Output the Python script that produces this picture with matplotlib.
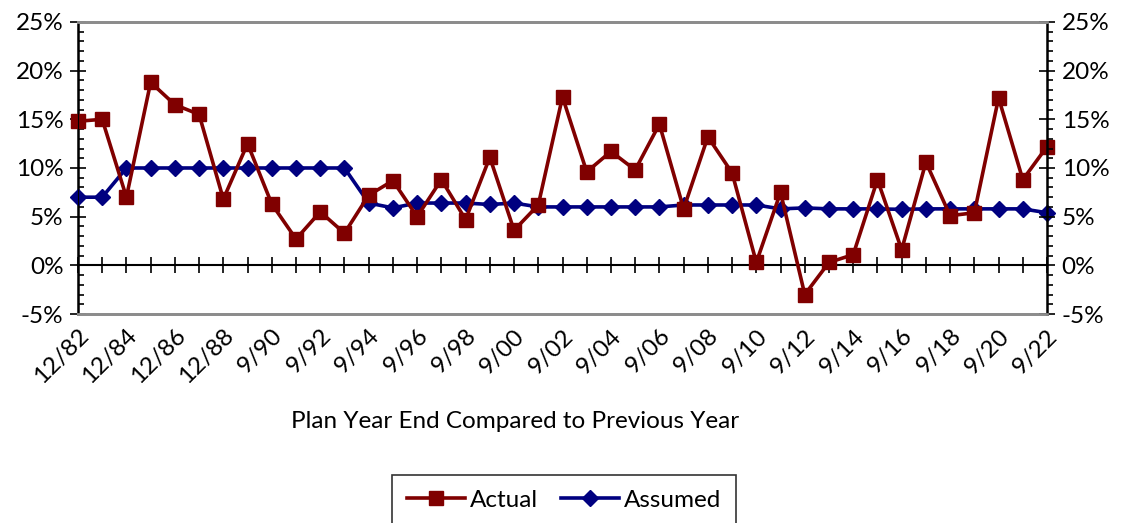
import matplotlib
import matplotlib.pyplot as plt
from matplotlib.ticker import FixedLocator, MultipleLocator, PercentFormatter

matplotlib.use("Agg")

plt.rcParams["font.family"] = ["Lato", "DejaVu Sans"]
plt.rcParams["axes.unicode_minus"] = False

# Plan year ends: December through 1989, September afterwards
PERIODS = [f"12/{y:02d}" for y in range(82, 90)] + [f"9/{y % 100:02d}" for y in range(1990, 2023)]

ACTUAL = [
    14.8, 15.0, 7.0, 18.8, 16.5, 15.5, 6.8, 12.5, 6.3, 2.7,
    5.5, 3.3, 7.2, 8.7, 5.0, 8.8, 4.7, 11.1, 3.6, 6.2,
    17.3, 9.6, 11.7, 9.8, 14.5, 5.8, 13.2, 9.5, 0.3, 7.5,
    -3.0, 0.3, 1.1, 8.8, 1.6, 10.6, 5.1, 5.4, 17.2, 8.8,
    12.2,
]
ASSUMED = [
    7.0, 7.0, 10.0, 10.0, 10.0, 10.0, 10.0, 10.0, 10.0, 10.0,
    10.0, 10.0, 6.4, 5.9, 6.4, 6.4, 6.4, 6.25, 6.4, 6.0,
    6.0, 6.0, 6.0, 6.0, 6.0, 6.2, 6.2, 6.2, 6.2, 5.8,
    5.9, 5.8, 5.8, 5.8, 5.75, 5.8, 5.8, 5.8, 5.8, 5.8,
    5.4,
]

RED = "#800000"
BLUE = "#000080"
GRAY = "#8c8c8c"
FS = 17.5

x = list(range(len(PERIODS)))
YMIN, YMAX = -5, 25

fig = plt.figure(figsize=(11.25, 5.23), dpi=100)
ax = fig.add_axes([0.0693, 0.3996, 0.8614, 0.5584])

ax.plot(x, ACTUAL, color=RED, lw=2.6, marker="s", ms=10, clip_on=False, zorder=4, label="Actual")
ax.plot(x, ASSUMED, color=BLUE, lw=2.6, marker="D", ms=8, clip_on=False, zorder=3, label="Assumed")

ax.set_xlim(0, len(x) - 1)
ax.set_ylim(YMIN, YMAX)

# left axis
ax.yaxis.set_major_locator(MultipleLocator(5))
ax.yaxis.set_minor_locator(MultipleLocator(1))
ax.yaxis.set_major_formatter(PercentFormatter(decimals=0))
ax.tick_params(axis="y", which="major", direction="inout", length=11, width=1.2,
               labelsize=FS, pad=5)
ax.tick_params(axis="y", which="minor", direction="in", length=4, width=1.2)

# right axis mirrors the left one
ax2 = ax.twinx()
ax2.set_ylim(YMIN, YMAX)
ax2.yaxis.set_major_locator(MultipleLocator(5))
ax2.yaxis.set_minor_locator(MultipleLocator(1))
ax2.yaxis.set_major_formatter(PercentFormatter(decimals=0))
ax2.tick_params(axis="y", which="major", direction="inout", length=11, width=1.2,
                labelsize=FS, pad=5)
ax2.tick_params(axis="y", which="minor", direction="out", length=4, width=1.2)

for a in (ax, ax2):
    a.spines["top"].set_color(GRAY)
    a.spines["bottom"].set_color(GRAY)
    a.spines["top"].set_linewidth(2)
    a.spines["bottom"].set_linewidth(2)
ax.spines["left"].set_linewidth(1.8)
ax2.spines["right"].set_linewidth(1.8)

# period labels along the bottom of the plot
ax.set_xticks(x[::2])
ax.set_xticklabels(PERIODS[::2], rotation=45, ha="right", rotation_mode="anchor", fontsize=FS)
ax.tick_params(axis="x", length=0, pad=8)

# zero line carries the tick marks for every year
zero = ax.secondary_xaxis((0 - YMIN) / (YMAX - YMIN))
zero.xaxis.set_major_locator(FixedLocator(x))
zero.tick_params(axis="x", direction="inout", length=11, width=1.2, labelbottom=False)
zero.spines["bottom"].set_linewidth(1.5)

fig.text(515 / 1125, 1 - 422 / 523, "Plan Year End Compared to Previous Year",
         ha="center", va="center", fontsize=FS)

leg = fig.legend(loc="upper center", bbox_to_anchor=(564 / 1125, 1 - 475 / 523), ncol=2,
                 fontsize=FS, frameon=True, fancybox=False, edgecolor="black",
                 handlelength=2.4, handletextpad=0.2, columnspacing=0.95,
                 borderpad=0.6, borderaxespad=0)
leg.get_frame().set_linewidth(1.2)

fig.savefig("out.png", dpi=100)
plt.close(fig)
